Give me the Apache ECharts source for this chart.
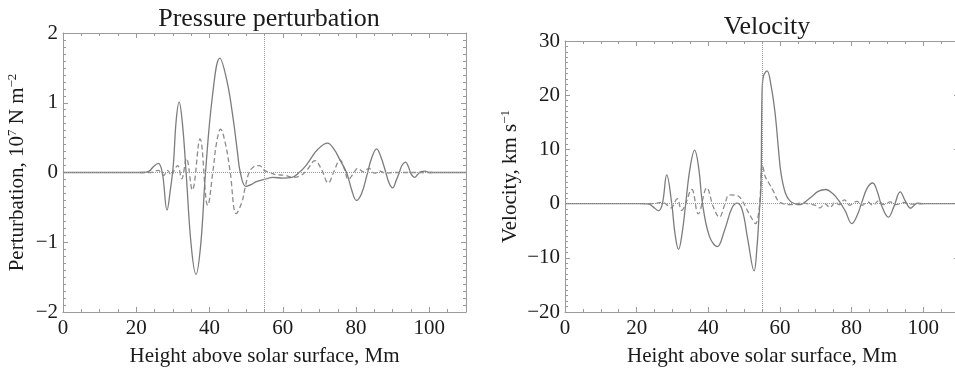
<!DOCTYPE html>
<html>
<head>
<meta charset="utf-8">
<script src="https://cdn.jsdelivr.net/npm/echarts@6/dist/echarts.min.js"></script>
<style>
html,body{margin:0;padding:0;background:#fff;overflow:hidden;}
#chart{width:965px;height:372px;}
</style>
</head>
<body>
<div id="chart"></div>
<script>
// ---- data (height in Mm, value) ----
const pressureSolid = [
  [0,0],[22,0],[23.5,0.02],[24.8,0.09],[26,0.13],[27.1,0],[28.4,-0.54],[29.3,-0.25],[30.1,0.1],[30.9,0.75],
  [31.7,1.01],[32.6,0.7],[33.6,0],[35,-1.05],[36.3,-1.46],[37.6,-1.03],[38.9,0],[40.8,1.1],[42.8,1.64],
  [44.8,1.3],[46.5,0.75],[47.6,0.3],[48.4,0],[49.9,-0.2],[51.5,-0.17],[52.8,-0.13],[55,-0.1],[57.3,-0.07],
  [60,-0.08],[62.5,-0.07],[64.7,0.01],[66,0.08],[67.4,0.18],[69.5,0.33],[72.2,0.42],[74,0.33],[75.6,0.18],
  [77.4,0],[78.8,-0.25],[80.1,-0.4],[81.5,-0.3],[82.9,-0.05],[84.2,0.2],[85.6,0.34],[86.8,0.22],[87.9,0.04],
  [89,-0.15],[90,-0.22],[90.9,-0.12],[91.8,0],[92.5,0.1],[93.5,0.15],[94.3,0.08],[95,-0.02],[96,-0.07],
  [96.8,-0.03],[97.6,0.01],[98.8,0.02],[100,0],[110,0]
];
const pressureDashed = [
  [21,0],[24,0],[26,0.03],[27.5,-0.04],[28.5,0.03],[29.6,-0.04],[30.5,0.05],[31.3,0.1],[32.4,-0.09],
  [33.7,0.2],[35.3,-0.25],[37.4,0.48],[39.5,-0.47],[41,0.05],[41.9,0.42],[43,0.62],[44.3,0.42],[45.6,0.02],
  [47.3,-0.59],[48.8,-0.43],[49.7,-0.22],[50.8,0],[52,0.08],[53.6,0.1],[55,0.03],[56.5,0],[58,-0.03],
  [60.5,-0.04],[62.8,-0.07],[65,-0.04],[66.5,0.03],[68.8,0.17],[70.5,0.05],[72.4,-0.15],[74,0.02],
  [75.6,0.18],[76.8,0.05],[77.9,-0.1],[79.2,-0.02],[80.5,0.06],[82,0.01],[83.5,0.06],[85,-0.01],
  [86.5,0.02],[88,-0.01],[90,0],[101,0]
];
const velocitySolid = [
  [0,0],[22,0],[23.5,-0.1],[24.6,-0.6],[26.1,-1.3],[27.2,0],[28.4,5.3],[29.8,0],[30.7,-5.5],[31.7,-8.45],
  [32.7,-5.5],[33.7,0],[34.9,6.5],[36.2,9.85],[37.3,6.7],[38.4,0],[40.3,-6],[42.5,-7.95],[44.5,-5],
  [46.6,-0.8],[48.1,0.1],[49.5,-1.2],[51,-6.5],[52.8,-12.4],[53.6,-8],[54.2,-2],[54.7,3],[55,20],
  [55.4,23.5],[56.4,24.5],[57.6,21.5],[58.7,16.4],[59.6,10],[60.3,5.6],[61.5,2],[62.8,0.5],[64.5,-0.1],
  [65.6,-0.2],[67,0.3],[68.9,1.3],[70.8,2.3],[72.8,2.6],[74.8,1.8],[76.4,0.6],[78.2,-1.3],[80.1,-3.7],
  [81.5,-2.3],[82.9,0.3],[84.4,2.9],[85.9,3.8],[87.2,2.2],[88.4,-0.4],[90.3,-2.5],[91.8,-0.6],
  [93.6,2.15],[95,0.5],[96.5,-0.85],[97.5,-0.3],[98.5,0.1],[100,0],[110,0]
];
const velocityDashed = [
  [21,0],[25,0],[27,0.25],[28.2,-0.1],[29.6,-0.8],[31.3,0.9],[32.6,-1.26],[33.4,-0.5],[35.4,2.6],
  [37.2,-1.9],[39.6,2.9],[41.4,-0.6],[43.1,-2.5],[44.6,-0.2],[45.9,1.6],[48.1,1.5],[49.6,0.4],
  [50.7,-1],[52.2,-2.8],[53.2,-3.7],[54.1,-1.5],[54.6,2.5],[55.1,7.2],[55.9,5],[56.9,3.8],[58.4,2],
  [59.4,0.6],[60.8,0],[63,-0.2],[66,0.1],[68.5,-0.1],[70.2,-0.4],[71.2,-0.8],[72.5,0],[74,-0.7],
  [75.5,0.3],[76.5,-0.2],[78,0.7],[79.5,-0.3],[81.5,0.4],[83,-0.3],[84.5,0.3],[86,-0.3],[87.5,0.5],
  [89,-0.2],[90.8,0.3],[92.5,-0.2],[94.5,0.2],[96.5,-0.1],[100,0]
];
const xTicks = {min: 0, max: 110, interval: 20};
const pressureTicks = {min: -2, max: 2, interval: 1};
const velocityTicks = {min: -20, max: 30, interval: 10};

// ---- styling ----
const FONT = 'Liberation Serif';
const TXT = '#1a1a1a';
const AX = '#9a9a9a';
const LINE = '#7c7c7c';
const minus = v => String(v).replace('-', '\u2212');
const nameRich = {
  n: {fontFamily: FONT, fontSize: 21, color: TXT, verticalAlign: 'bottom', lineHeight: 22},
  s: {fontFamily: FONT, fontSize: 13, color: TXT, verticalAlign: 'top', lineHeight: 22}
};

function xAxisPair(gi) {
  const base = {
    type: 'value', gridIndex: gi, min: xTicks.min, max: xTicks.max, interval: xTicks.interval,
    axisLine: {show: true, onZero: false, lineStyle: {color: AX, width: 1}},
    axisTick: {show: true, inside: true, length: 5, lineStyle: {color: AX}},
    minorTick: {show: true, splitNumber: 4, length: 3, lineStyle: {color: AX}},
    splitLine: {show: false}
  };
  return [
    Object.assign({}, base, {
      position: 'bottom',
      name: 'Height above solar surface, Mm', nameLocation: 'middle', nameGap: 34,
      nameTextStyle: {fontFamily: FONT, fontSize: 21, color: TXT},
      axisLabel: {show: true, margin: 6, fontFamily: FONT, fontSize: 21, color: TXT,
        formatter: v => v > 100 ? '' : minus(v)}
    }),
    Object.assign({}, base, {position: 'top', axisLabel: {show: false}})
  ];
}
function yAxisPair(gi, t, name, gap) {
  const base = {
    type: 'value', gridIndex: gi, min: t.min, max: t.max, interval: t.interval,
    axisLine: {show: true, onZero: false, lineStyle: {color: AX, width: 1}},
    axisTick: {show: true, inside: true, length: 5, lineStyle: {color: AX}},
    minorTick: {show: true, splitNumber: 10, length: 3, lineStyle: {color: AX}},
    splitLine: {show: false}
  };
  return [
    Object.assign({}, base, {
      position: 'left', name: name, nameLocation: 'middle', nameGap: gap, nameRotate: 90,
      nameTextStyle: {fontFamily: FONT, fontSize: 21, color: TXT, rich: nameRich},
      axisLabel: {show: true, margin: 5, fontFamily: FONT, fontSize: 21, color: TXT, formatter: v => minus(v)}
    }),
    Object.assign({}, base, {position: 'right', axisLabel: {show: false}})
  ];
}
function refLines() {
  return {
    silent: true, symbol: 'none', animation: false,
    label: {show: false},
    lineStyle: {type: 'dotted', color: '#9a9a9a', width: 1},
    data: [{yAxis: 0}, {xAxis: 55}]
  };
}
function lineSeries(data, xi, yi, dashed, withRefs) {
  const s = {
    type: 'line', data: data, xAxisIndex: xi, yAxisIndex: yi,
    smooth: 0.4, symbol: 'none', animation: false, z: dashed ? 2 : 3,
    lineStyle: {color: dashed ? '#8c8c8c' : LINE, width: 1.3, type: dashed ? [5, 3] : 'solid'}
  };
  if (withRefs) s.markLine = refLines();
  return s;
}

const chart = echarts.init(document.getElementById('chart'), null, {renderer: 'canvas'});
chart.setOption({
  backgroundColor: '#fff',
  animation: false,
  title: [
    {text: 'Pressure perturbation', left: 264, top: 1, textAlign: 'center',
     textStyle: {fontFamily: FONT, fontSize: 26, fontWeight: 'normal', color: TXT}},
    {text: 'Velocity', left: 762, top: 9, textAlign: 'center',
     textStyle: {fontFamily: FONT, fontSize: 26, fontWeight: 'normal', color: TXT}}
  ],
  grid: [
    {left: 63, top: 33, width: 403, height: 286, containLabel: false},
    {left: 565, top: 41, width: 394, height: 278, containLabel: false}
  ],
  xAxis: [...xAxisPair(0), ...xAxisPair(1)],
  yAxis: [...yAxisPair(0, pressureTicks, '{n|Perturbation, 10}{s|7}{n| N m}{s|\u22122}', 35),
          ...yAxisPair(1, velocityTicks, '{n|Velocity, km s}{s|\u22121}', 44)],
  series: [
    lineSeries(pressureDashed, 0, 0, true, false),
    lineSeries(pressureSolid, 0, 0, false, true),
    lineSeries(velocityDashed, 2, 2, true, false),
    lineSeries(velocitySolid, 2, 2, false, true)
  ]
});
</script>
</body>
</html>
